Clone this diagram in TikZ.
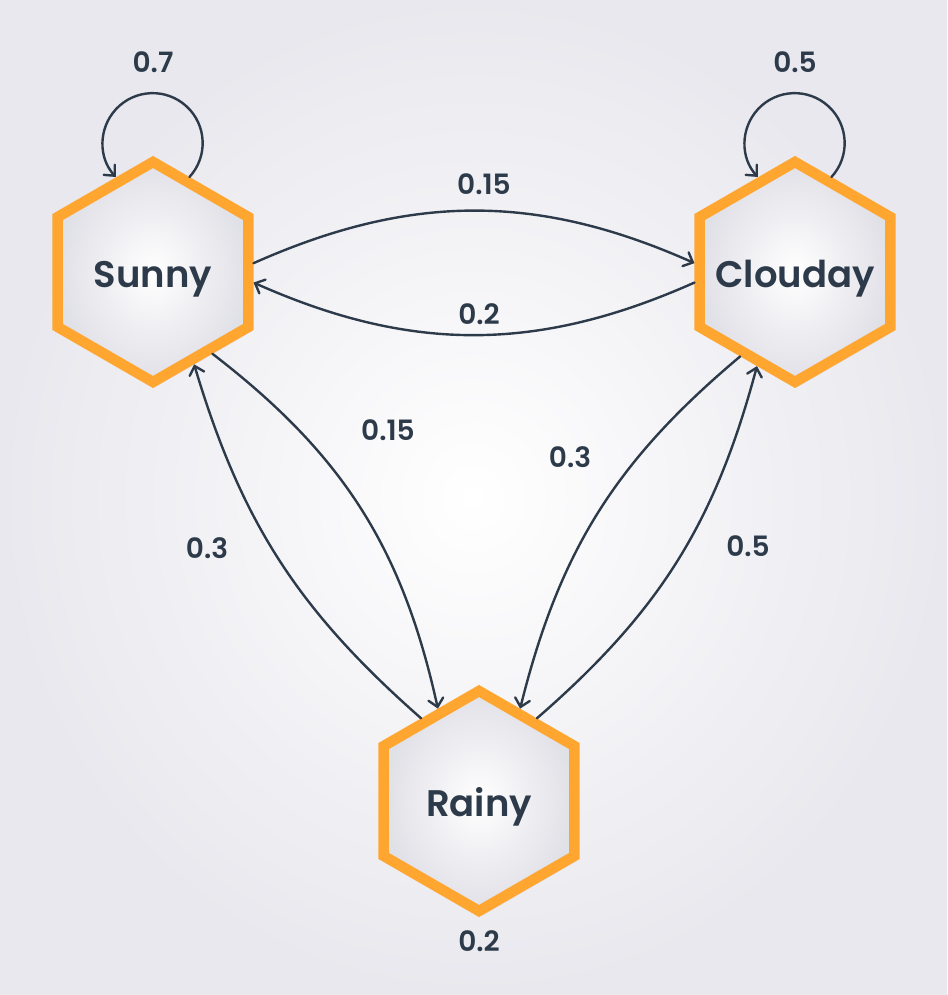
\documentclass[tikz,border=0pt]{standalone}
\usepackage{fontspec}
\setmainfont{Poppins SemiBold}
\usetikzlibrary{shapes.geometric,arrows.meta,shadows}
\definecolor{ink}{HTML}{2D3A4A}
\definecolor{hexorange}{HTML}{FFA631}
\definecolor{hexedge}{HTML}{E0E0E7}
\definecolor{bgedge}{HTML}{E8E8EE}
\newcommand{\hexlabel}[1]{\makebox[0pt]{\raisebox{-16pt}[0pt][0pt]{#1}}}
\tikzset{
  x=1pt,y=1pt,
  state/.style={regular polygon, regular polygon sides=6, shape border rotate=30,
    minimum size=220pt, inner sep=0pt, draw=hexorange, line width=10.5pt,
    shading=radial, inner color=white, outer color=hexedge,
    text=ink, font=\fontsize{37}{40}\selectfont,
    drop shadow={opacity=0.10, shadow xshift=3pt, shadow yshift=-5pt}},
  prob/.style={text=ink, font=\fontsize{28}{32}\selectfont, inner sep=0pt},
  arr/.style={draw=ink, line width=2.4pt, line cap=round,
    -{Straight Barb[length=8pt,width=15pt,line cap=round]}},
}
\begin{document}
\begin{tikzpicture}
\useasboundingbox (0,0) rectangle (947,995);
\shade[inner color=white, outer color=bgedge] (0,0) rectangle (947,995);

\node[state] (s) at (153,723) {\hexlabel{Sunny}};
\node[state] (c) at (795,723) {\hexlabel{Clouday}};
\node[state] (r) at (479,194) {\hexlabel{Rainy}};

% self loops
\draw[arr] (s.69) arc[start angle=-42.6, end angle=222.6, radius=50];
\draw[arr] (c.69) arc[start angle=-42.6, end angle=222.6, radius=50];

% transitions
\draw[arr] (s.5) to[bend left=24] (c.175);
\draw[arr] (c.186) to[bend left=24] (s.-6);
\draw[arr] (s.-54) to[bend left=20] (r.114);
\draw[arr] (r.125) to[bend left=16] (s.-66);
\draw[arr] (c.-123) to[bend right=18] (r.66);
\draw[arr] (r.55) to[bend right=17] (c.-112);

% probabilities
\node[prob] (p1) at (153,933) {0.7};
\node[prob] (p2) at (795,933) {0.5};
\node[prob] (p3) at (484,811) {0.15};
\node[prob] (p4) at (479,681) {0.2};
\node[prob] (p5) at (388,565) {0.15};
\node[prob] (p6) at (207,447) {0.3};
\node[prob] (p7) at (570,538) {0.3};
\node[prob] (p8) at (748,449) {0.5};
\node[prob] (p9) at (479,54) {0.2};
\end{tikzpicture}
\end{document}
